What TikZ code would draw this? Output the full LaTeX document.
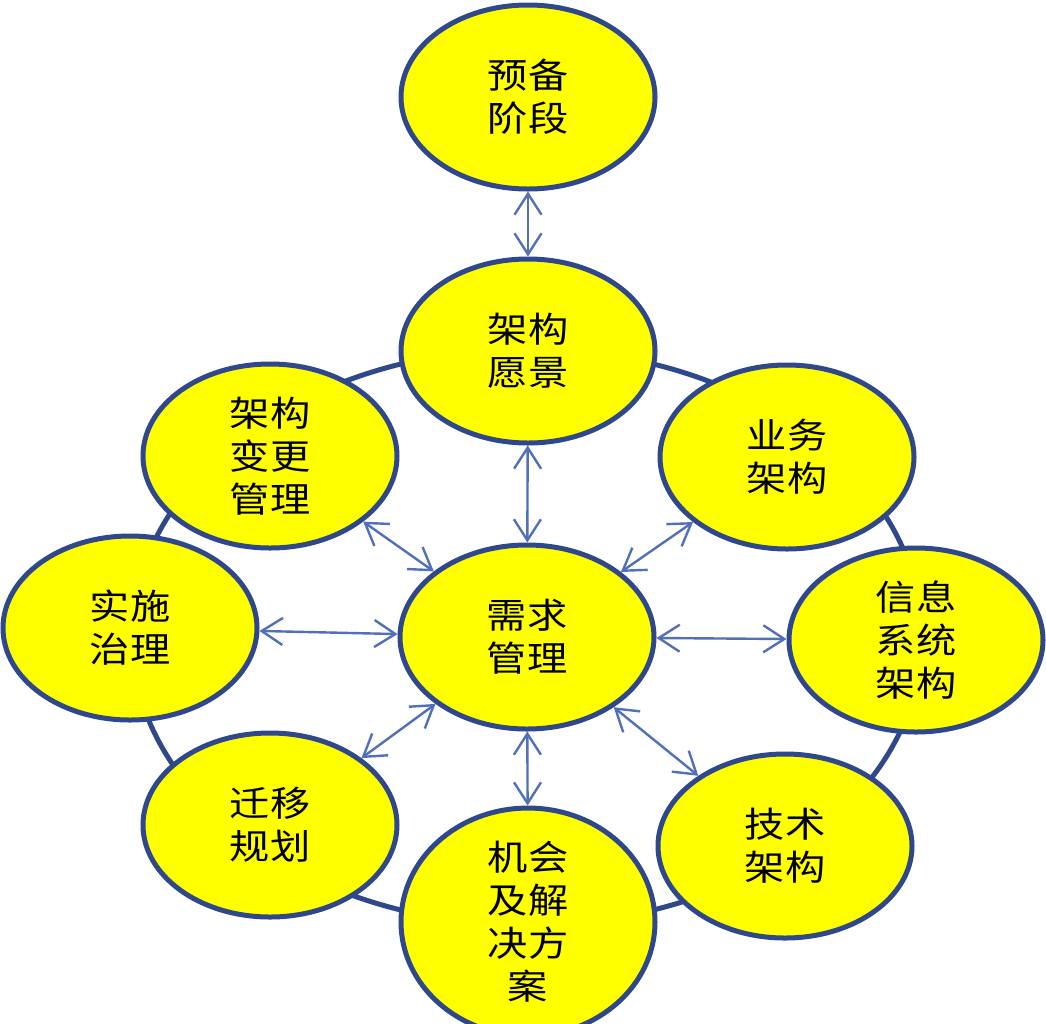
\documentclass[tikz,border=0pt]{standalone}
\usepackage{fontspec}
\newfontfamily\cjk[FakeStretch=1.15]{Noto Sans CJK SC}
\usetikzlibrary{shapes.geometric,arrows.meta}
\definecolor{bord}{RGB}{47,72,140}
\definecolor{arrc}{RGB}{82,112,186}
\definecolor{yel}{RGB}{255,255,0}
\begin{document}
\begin{tikzpicture}[x=1pt,y=-1pt,
  bub/.style={ellipse, draw=bord, line width=5pt, fill=yel,
    minimum width=254pt, minimum height=184pt, inner sep=0pt,
    align=center, font=\cjk\fontsize{35}{43}\selectfont},
  link/.style={draw=arrc, line width=2.4pt,
    {Straight Barb[length=21pt,width=27pt]}-{Straight Barb[length=21pt,width=27pt]}},
  ring/.style={draw=bord, line width=5pt}]
\useasboundingbox (0,0) rectangle (1046,1023);
\fill[white] (0,0) rectangle (1046,1023);
% background ring
\draw[ring] (527,637) ellipse [x radius=395pt, y radius=288pt];
% nodes
\node[bub] (yb) at (528,97) {预备\\阶段};
\node[bub] (yj) at (528,351) {架构\\愿景};
\node[bub] (yw) at (787,457) {业务\\架构};
\node[bub] (xx) at (916,640) {信息\\系统\\架构};
\node[bub] (js) at (785,846) {技术\\架构};
\node[bub, minimum height=186pt] (jh) at (528,922) {机会\\及解\\决方\\案};
\node[bub] (qy) at (270,825) {迁移\\规划};
\node[bub] (ss) at (130,628) {实施\\治理};
\node[bub] (bg) at (270,456) {架构\\变更\\管理};
\node[bub] (xq) at (527,637) {需求\\管理};
% connectors
\draw[link] (yb) -- (yj);
\draw[link] (yj) -- (xq);
\draw[link] (yw) -- (xq);
\draw[link] (xx) -- (xq);
\draw[link] (js) -- (xq);
\draw[link] (jh) -- (xq);
\draw[link] (qy) -- (xq);
\draw[link] (ss) -- (xq);
\draw[link] (bg) -- (xq);
\end{tikzpicture}
\end{document}
